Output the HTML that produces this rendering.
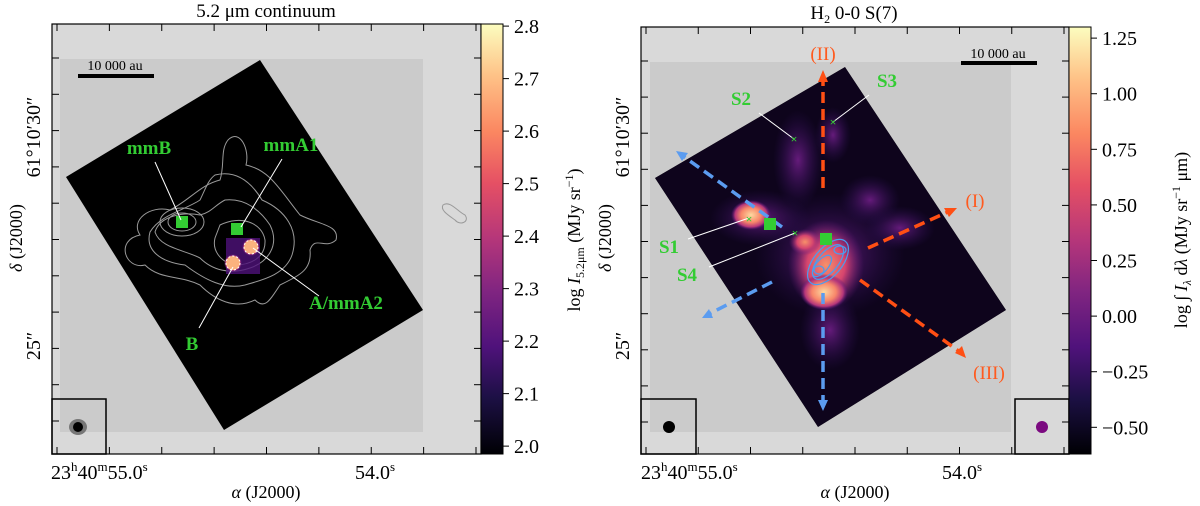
<!DOCTYPE html>
<html><head><meta charset="utf-8"><style>
html,body{margin:0;padding:0;background:#fff;}
svg{display:block;font-family:"Liberation Serif",serif;}
</style></head><body>
<svg id="fig" width="1200" height="506" viewBox="0 0 1200 506" xmlns="http://www.w3.org/2000/svg">
<defs>
 <linearGradient id="magma" x1="0" y1="1" x2="0" y2="0">
  <stop offset="0" stop-color="#000004"/><stop offset="0.13" stop-color="#1c1044"/>
  <stop offset="0.25" stop-color="#4f127b"/><stop offset="0.38" stop-color="#812581"/>
  <stop offset="0.5" stop-color="#b5367a"/><stop offset="0.63" stop-color="#e55064"/>
  <stop offset="0.75" stop-color="#fb8761"/><stop offset="0.88" stop-color="#fec287"/>
  <stop offset="1" stop-color="#fcfdbf"/>
 </linearGradient>
 <radialGradient id="hot" cx="0.5" cy="0.5" r="0.5">
  <stop offset="0" stop-color="#fdd9a0"/><stop offset="0.5" stop-color="#f8876a"/><stop offset="0.8" stop-color="#b5367a"/><stop offset="1" stop-color="#4f127b" stop-opacity="0"/>
 </radialGradient>
 <radialGradient id="purp" cx="0.5" cy="0.5" r="0.5">
  <stop offset="0" stop-color="#6a1c80" stop-opacity="0.95"/><stop offset="1" stop-color="#2a0f55" stop-opacity="0"/>
 </radialGradient>
 <radialGradient id="core" cx="0.5" cy="0.5" r="0.5">
  <stop offset="0" stop-color="#f7906a"/><stop offset="0.5" stop-color="#d6456e"/><stop offset="1" stop-color="#6a1c80" stop-opacity="0"/>
 </radialGradient>
 <clipPath id="clipR"><polygon points="845,67 1006,310 818,427 655,178"/></clipPath>
</defs>

<!-- LEFT PANEL -->
<g>
 <text x="266" y="17" font-size="19" text-anchor="middle">5.2 μm continuum</text>
 <rect x="52" y="24" width="429" height="430" fill="#d9d9d9"/>
 <rect x="60" y="59" width="363" height="373" fill="#cbcbcb"/>
 <polygon points="260,60 423,310 224,430 66,177" fill="#000"/>
 <g fill="none" stroke="#9a9a9a" stroke-width="1">
  <path d="M228,140 C240,128 250,150 246,165 C270,170 280,190 300,215 C320,225 340,225 336,240 C325,250 315,235 310,250 C312,270 300,275 280,285 C270,300 265,310 255,300 C235,310 215,300 200,285 C180,275 160,280 145,265 C125,270 115,240 140,235 C130,220 150,205 170,210 C190,200 200,185 220,180 C225,165 220,150 228,140 Z"/>
  <path d="M215,175 C235,170 250,180 262,200 C285,210 300,230 292,255 C285,275 262,280 245,285 C225,290 205,280 185,265 C160,262 145,250 150,232 C160,215 185,210 200,200 C205,190 208,180 215,175 Z"/>
  <path d="M225,200 C245,198 260,210 270,225 C280,245 268,262 250,268 C230,275 212,270 200,258 C185,250 160,248 155,232 C160,215 185,212 200,215 C212,212 215,205 225,200 Z"/>
  <path d="M220,225 C240,215 262,222 265,240 C266,258 250,265 235,265 C220,262 212,250 215,238 Z"/>
  <ellipse cx="182" cy="222" rx="22" ry="14"/>
  <ellipse cx="182" cy="222" rx="14" ry="9"/>
  <path d="M443,205 C450,200 458,212 465,215 C470,222 460,226 455,220 C448,215 440,210 443,205 Z"/>
 </g>
 <g>
  <rect x="226" y="238" width="34" height="36" fill="#4f127b" opacity="0.8"/>
  <circle cx="251" cy="247" r="9" fill="url(#hot)"/>
  <circle cx="233" cy="263" r="9" fill="url(#hot)"/>
  <circle cx="251" cy="247" r="7" fill="#fbb27e" stroke="#fff" stroke-dasharray="2,2"/>
  <circle cx="233" cy="263" r="7" fill="#fbb27e" stroke="#fff" stroke-dasharray="2,2"/>
 </g>
 <rect x="176" y="216" width="12" height="12" fill="#33cc33"/>
 <rect x="231" y="223" width="12" height="12" fill="#33cc33"/>
 <g stroke="#fff" stroke-width="1">
  <line x1="155" y1="162" x2="181" y2="220"/><line x1="282" y1="159" x2="241" y2="227"/>
  <line x1="319" y1="296" x2="253" y2="248"/><line x1="199" y1="328" x2="233" y2="267"/>
 </g>
 <g fill="#33cc33" font-size="19" font-weight="bold" text-anchor="middle">
  <text x="149" y="154">mmB</text>
  <text x="291" y="151">mmA1</text>
  <text x="346" y="309">A/mmA2</text>
  <text x="192" y="350">B</text>
 </g>
 <text x="115" y="70" font-size="14" text-anchor="middle">10 000 au</text>
 <rect x="78" y="74" width="76" height="4" fill="#000"/>
 <rect x="52" y="399" width="54" height="55" fill="none" stroke="#000" stroke-width="1.5"/>
 <ellipse cx="78" cy="427" rx="9" ry="8" fill="#777"/>
 <circle cx="78" cy="427" r="5" fill="#000"/>
 <rect x="52" y="24" width="429" height="430" fill="none" stroke="#000" stroke-width="1.2"/>
 <g id="ticksL"></g>
 <rect x="481" y="24" width="22" height="430" fill="url(#magma)" stroke="#000" stroke-width="1"/>
 <g id="cbL"></g>
 <text transform="translate(580,240) rotate(-90)" font-size="18" text-anchor="middle">log <tspan font-style="italic">I</tspan><tspan font-size="12" dy="4">5.2μm</tspan><tspan dy="-4"> (MJy sr</tspan><tspan font-size="12" dy="-7">−1</tspan><tspan dy="7">)</tspan></text>
 <text transform="translate(22,238) rotate(-90)" font-size="18" text-anchor="middle"><tspan font-style="italic">δ</tspan> (J2000)</text>
 <text x="266" y="498" font-size="18" text-anchor="middle"><tspan font-style="italic">α</tspan> (J2000)</text>
</g>

<!-- RIGHT PANEL -->
<g>
 <text x="854" y="19" font-size="19" text-anchor="middle">H<tspan font-size="12" dy="4">2</tspan><tspan dy="-4"> 0-0 S(7)</tspan></text>
 <rect x="641" y="27" width="428" height="427" fill="#d9d9d9"/>
 <rect x="650" y="62" width="361" height="370" fill="#cbcbcb"/>
 <polygon points="845,67 1006,310 818,427 655,178" fill="#000"/>
 <g clip-path="url(#clipR)">
  <polygon points="845,67 1006,310 818,427 655,178" fill="#1a0733" opacity="0.55"/>
  <ellipse cx="798" cy="160" rx="25" ry="50" fill="url(#purp)"/>
  <ellipse cx="833" cy="135" rx="18" ry="28" fill="url(#purp)"/>
  <ellipse cx="830" cy="255" rx="75" ry="62" fill="url(#purp)"/>
  <ellipse cx="760" cy="218" rx="50" ry="28" fill="url(#purp)"/>
  <ellipse cx="900" cy="228" rx="35" ry="22" fill="url(#purp)"/>
  <ellipse cx="830" cy="330" rx="30" ry="40" fill="url(#purp)"/>
  <ellipse cx="870" cy="200" rx="30" ry="25" fill="url(#purp)"/>
  <ellipse cx="826" cy="265" rx="38" ry="45" fill="url(#core)"/>
  <ellipse cx="824" cy="292" rx="24" ry="18" fill="url(#hot)"/>
  <ellipse cx="751" cy="215" rx="20" ry="15" fill="url(#hot)"/>
  <ellipse cx="805" cy="242" rx="16" ry="13" fill="url(#core)"/>
 </g>
 <g fill="none" stroke="#4a9df0" stroke-width="1.2">
  <ellipse cx="828" cy="262" rx="27" ry="14" transform="rotate(-50 828 262)"/>
  <ellipse cx="828" cy="262" rx="21" ry="10" transform="rotate(-50 828 262)"/>
  <ellipse cx="822" cy="266" rx="13" ry="6" transform="rotate(-50 822 266)"/>
  <ellipse cx="840" cy="250" rx="6" ry="4"/>
  <ellipse cx="819" cy="270" rx="5" ry="4"/>
 </g>
 <g stroke-width="3.5" stroke-dasharray="11,6" fill="none">
  <line x1="823" y1="188" x2="823" y2="80" stroke="#ff4f14"/>
  <line x1="868" y1="248" x2="950" y2="211" stroke="#ff4f14"/>
  <line x1="860" y1="280" x2="960" y2="352" stroke="#ff4f14"/>
  <line x1="782" y1="227" x2="683" y2="156" stroke="#5b9cf0"/>
  <line x1="772" y1="282" x2="709" y2="314" stroke="#5b9cf0"/>
  <line x1="823" y1="293" x2="823" y2="402" stroke="#5b9cf0"/>
 </g>
 <g>
  <polygon points="823,70 818,82 828,82" fill="#ff4f14"/>
  <polygon points="957,208 944,208 949,217" fill="#ff4f14"/>
  <polygon points="966,358 962,346 955,353" fill="#ff4f14"/>
  <polygon points="676,151 688,153 682,161" fill="#5b9cf0"/>
  <polygon points="702,318 709,309 713,318" fill="#5b9cf0"/>
  <polygon points="823,411 818,400 828,400" fill="#5b9cf0"/>
 </g>
 <g fill="#ff5a1e" font-size="19" text-anchor="middle">
  <text x="823" y="60">(II)</text>
  <text x="975" y="207">(I)</text>
  <text x="989" y="379">(III)</text>
 </g>
 <g stroke="#fff" stroke-width="1">
  <line x1="688" y1="239" x2="749" y2="218"/><line x1="709" y1="267" x2="795" y2="233"/>
  <line x1="759" y1="113" x2="794" y2="139"/><line x1="869" y1="95" x2="833" y2="122"/>
 </g>
 <g fill="#33cc33" font-size="19" font-weight="bold" text-anchor="middle">
  <text x="669" y="253">S1</text>
  <text x="687" y="281">S4</text>
  <text x="741" y="105">S2</text>
  <text x="887" y="87">S3</text>
 </g>
 <g fill="#33cc33" font-size="12" text-anchor="middle" font-weight="bold">
  <text x="749" y="223">×</text><text x="795" y="237">×</text><text x="794" y="143">×</text><text x="833" y="126">×</text>
 </g>
 <rect x="820" y="233" width="12" height="12" fill="#33cc33"/>
 <rect x="764" y="218" width="12" height="12" fill="#33cc33"/>
 <text x="998" y="58" font-size="14" text-anchor="middle">10 000 au</text>
 <rect x="961" y="61" width="76" height="4" fill="#000"/>
 <rect x="641" y="399" width="55" height="55" fill="none" stroke="#000" stroke-width="1.5"/>
 <circle cx="669" cy="427" r="6" fill="#000"/>
 <rect x="1015" y="399" width="54" height="55" fill="none" stroke="#000" stroke-width="1.5"/>
 <circle cx="1042" cy="427" r="6" fill="#7b0a80"/>
 <rect x="641" y="27" width="428" height="427" fill="none" stroke="#000" stroke-width="1.2"/>
 <g id="ticksR"></g>
 <rect x="1069" y="27" width="22" height="427" fill="url(#magma)" stroke="#000" stroke-width="1"/>
 <g id="cbR"></g>
 <text transform="translate(1187,240) rotate(-90)" font-size="18" text-anchor="middle">log ∫ <tspan font-style="italic">I</tspan><tspan font-size="12" dy="4" font-style="italic">λ</tspan><tspan dy="-4"> d</tspan><tspan font-style="italic">λ</tspan> (MJy sr<tspan font-size="12" dy="-7">−1</tspan><tspan dy="7"> μm)</tspan></text>
 <text transform="translate(611,238) rotate(-90)" font-size="18" text-anchor="middle"><tspan font-style="italic">δ</tspan> (J2000)</text>
 <text x="855" y="498" font-size="18" text-anchor="middle"><tspan font-style="italic">α</tspan> (J2000)</text>
</g>
</svg>
<script>
const cbLeftTicks = [2.0, 2.1, 2.2, 2.3, 2.4, 2.5, 2.6, 2.7, 2.8];
const cbLeftLabels = ["2.0","2.1","2.2","2.3","2.4","2.5","2.6","2.7","2.8"];
const cbRightTicks = [-0.50, -0.25, 0.00, 0.25, 0.50, 0.75, 1.00, 1.25];
const cbRightLabels = ["−0.50","−0.25","0.00","0.25","0.50","0.75","1.00","1.25"];
const raTickCount = 9;
const decTickCount = 11;
const NS = "http://www.w3.org/2000/svg";
function mk(tag, attrs, parent){const e=document.createElementNS(NS,tag);for(const k in attrs)e.setAttribute(k,attrs[k]);parent.appendChild(e);return e;}
function ts(parent, txt, attrs){const t=mk('tspan',attrs||{},parent);t.textContent=txt;return t;}

function colorbar(gid, x, top, bot, vmin, vmax, ticks, labels){
  const g=document.getElementById(gid);
  const sy=v=>bot-(v-vmin)/(vmax-vmin)*(bot-top);
  ticks.forEach((t,i)=>{
    const y=sy(t);
    const l=mk('line',{x1:x,x2:x+6,y1:y,y2:y,stroke:'#000','stroke-width':1},g);
    
    
    const tx=mk('text',{x:x+11,y:y+7,'font-size':20},g);
    tx.textContent=labels[i];
    
    
  });
}
colorbar('cbL',503,24,454,1.985,2.804,cbLeftTicks,cbLeftLabels);
colorbar('cbR',1091,27,454,-0.62,1.30,cbRightTicks,cbRightLabels);

function axes(gid,x0,x1,y0,y1,xs,xe,ys,ye,xlab,ylab){
  const g=document.getElementById(gid);
  for(let i=0;i<raTickCount;i++){
    const x=xs+(xe-xs)*i/(raTickCount-1);
    const a=mk('line',{x1:x,x2:x,y1:y1,y2:y1-7,stroke:'#000'},g);
    
    
    mk('line',{x1:x,x2:x,y1:y0,y2:y0+7,stroke:'#000'},g);
  }
  for(let i=0;i<decTickCount;i++){
    const y=ys+(ye-ys)*i/(decTickCount-1);
    const a=mk('line',{x1:x0,x2:x0+7,y1:y,y2:y,stroke:'#000'},g);
    
    
    mk('line',{x1:x1,x2:x1-7,y1:y,y2:y,stroke:'#000'},g);
  }
  const t1=mk('text',{x:xlab[0],y:479,'font-size':20},g);
  ts(t1,'23');ts(t1,'h',{'font-size':13,dy:-8});ts(t1,'40',{dy:8});ts(t1,'m',{'font-size':13,dy:-8});ts(t1,'55.0',{dy:8});ts(t1,'s',{'font-size':13,dy:-8});
  
  
  const t2=mk('text',{x:xlab[1],y:479,'font-size':20,'text-anchor':'middle'},g);
  ts(t2,'54.0');ts(t2,'s',{'font-size':13,dy:-8});
  
  
  const t3=mk('text',{transform:'translate('+ylab+',137) rotate(-90)','font-size':20,'text-anchor':'middle'},g);
  t3.textContent='61°10′30″';
  
  
  const t4=mk('text',{transform:'translate('+ylab+',346) rotate(-90)','font-size':20,'text-anchor':'middle'},g);
  t4.textContent='25″';
  
  
}
axes('ticksL',52,481,24,454,57,476,58,421,[51,375],40);
axes('ticksR',641,1069,27,454,646,1064,61,422,[641,962],629);
</script>
</body></html>
